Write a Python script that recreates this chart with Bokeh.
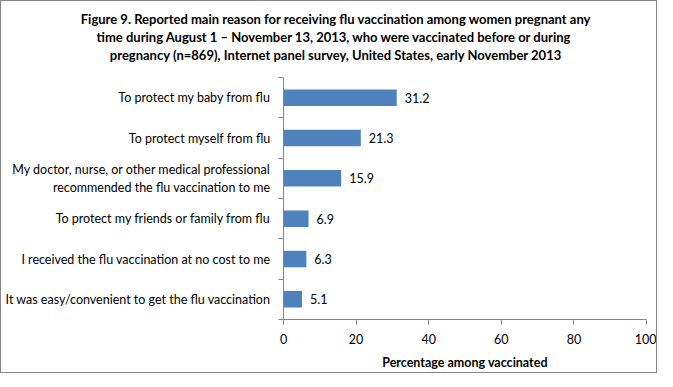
from bokeh.plotting import figure
from bokeh.models import Range1d, FixedTicker, LabelSet, ColumnDataSource, LinearAxis
from bokeh.layouts import column
from bokeh.core.properties import value
from bokeh.embed import file_html
from bokeh.resources import INLINE

title_lines = [
    "Figure 9. Reported main reason for receiving flu vaccination among women pregnant any",
    "time  during August 1 \u2013 November 13, 2013, who were vaccinated before or during",
    "pregnancy (n=869), Internet panel survey, United States, early November 2013",
]
categories = [
    "To protect my baby from flu",
    "To protect myself from flu",
    "My doctor, nurse, or other medical professional\nrecommended the flu vaccination to me",
    "To protect my friends or family from flu",
    "I received the flu vaccination at no cost to me",
    "It was easy/convenient to get the flu vaccination",
]
values = [31.2, 21.3, 15.9, 6.9, 6.3, 5.1]
x_ticks = [0, 20, 40, 60, 80, 100]
x_label = "Percentage among vaccinated"

FONT = "Lato"
AXIS_GRAY = "#868686"
BAR = "#4F81BD"

W = 655
TH = 70          # title strip height
MH = 301         # main chart height
ML, MR, MT, MB = 282, 10, 6, 49

# ---- title strip ----
tf = figure(width=W, height=TH, output_backend="svg", toolbar_location=None,
            x_range=Range1d(0, W), y_range=Range1d(TH, 0),
            x_axis_type=None, y_axis_type=None, min_border=0)
tf.frame_align = False
tf.outline_line_color = None
tf.grid.visible = False
tsrc = ColumnDataSource(dict(x=[W / 2 + 7] * len(title_lines),
                             y=[17 + 18 * i for i in range(len(title_lines))],
                             t=title_lines))
tf.text(x="x", y="y", text="t", source=tsrc, text_align="center", text_baseline="middle",
        text_font=value(FONT), text_font_style=value("bold"),
        text_font_size=value("13px"), text_color="black")

# ---- main chart ----
n = len(categories)
ypos = [n - 0.5 - i for i in range(n)]
src = ColumnDataSource(dict(y=ypos, v=values, lab=[f"{v:.1f}" for v in values]))

p = figure(width=W, height=MH, output_backend="svg", toolbar_location=None,
           x_range=Range1d(0, 100), y_range=Range1d(0, n),
           x_axis_type=None, y_axis_type=None,
           min_border_left=ML, min_border_right=MR, min_border_top=MT, min_border_bottom=MB)
p.frame_align = False
p.outline_line_color = None
p.grid.visible = False

p.hbar(y="y", right="v", left=0, height=0.41, source=src, color=BAR, line_color=None)
p.add_layout(LabelSet(x="v", y="y", text="lab", source=src, x_offset=8,
                      text_baseline="middle", text_font=value(FONT),
                      text_font_size=value("12.5px"), text_color="black"))

xa = LinearAxis(ticker=FixedTicker(ticks=x_ticks), axis_label=x_label)
xa.axis_line_color = AXIS_GRAY
xa.major_tick_line_color = AXIS_GRAY
xa.major_tick_in = 0
xa.major_tick_out = 5
xa.minor_tick_line_color = None
xa.major_label_text_font = FONT
xa.major_label_text_font_size = "12.5px"
xa.major_label_text_color = "black"
xa.major_label_standoff = 9
xa.axis_label_text_font = FONT
xa.axis_label_text_font_size = "12.5px"
xa.axis_label_text_font_style = "bold"
xa.axis_label_text_color = "black"
xa.axis_label_standoff = 8
p.add_layout(xa, "below")

ya = LinearAxis(ticker=FixedTicker(ticks=ypos, minor_ticks=list(range(n + 1))))
ya.major_label_overrides = {y: c for y, c in zip(ypos, categories)}
ya.axis_line_color = AXIS_GRAY
ya.major_tick_line_color = None
ya.major_tick_in = 0
ya.major_tick_out = 0
ya.minor_tick_line_color = AXIS_GRAY
ya.minor_tick_in = 0
ya.minor_tick_out = 5
ya.major_label_text_font = FONT
ya.major_label_text_font_size = "12.5px"
ya.major_label_text_color = "black"
ya.major_label_standoff = 8
p.add_layout(ya, "left")

layout = column(tf, p, spacing=0)
layout.styles = {"border": "1px solid #868686"}

open("out.html", "w").write(file_html(layout, INLINE))
